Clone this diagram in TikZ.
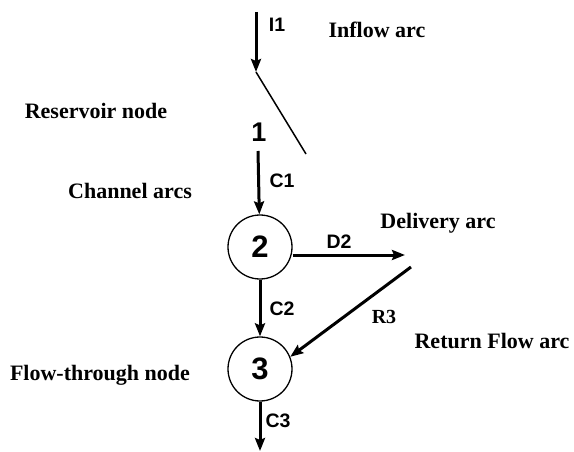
\documentclass[tikz,border=0pt]{standalone}
\usepackage{fontspec}
\setmainfont{Liberation Serif}
\setsansfont{Liberation Sans}
\usetikzlibrary{arrows.meta}
\begin{document}
\begin{tikzpicture}[x=1pt,y=-1pt,
  desc/.style={font=\fontsize{22}{24}\selectfont\bfseries,anchor=base,inner sep=0pt},
  arclab/.style={font=\fontsize{19.5}{21}\selectfont\sffamily\bfseries,anchor=base,inner sep=0pt},
  nodecirc/.style={draw,circle,line width=1.3pt,minimum size=64pt,inner sep=0pt,font=\fontsize{31}{34}\selectfont\sffamily\bfseries},
  flow/.style={line width=3pt,-{Stealth[length=13pt,width=10pt,inset=2pt]}},
  thin/.style={line width=1.5pt}]
\useasboundingbox (0,0) rectangle (574,452);
% nodes
\coordinate (i1s) at (256,12);
\coordinate (i1e) at (256,72);
\coordinate (t1e) at (306,154);
\node[font=\fontsize{27}{29}\selectfont\sffamily\bfseries,anchor=base,inner sep=0pt] (n1) at (259,142) {1};
\coordinate (c1s) at (258,151);
\node[nodecirc] (n2) at (260,247) {2};
\node[nodecirc] (n3) at (260,369) {3};
\coordinate (d2e) at (405,255);
\coordinate (r3s) at (411,267);
\coordinate (c3e) at (260,451);
% arcs
\draw[flow] (i1s) -- (i1e);
\draw[thin] (i1e) -- (t1e);
\draw[flow] (c1s) -- (n2);
\draw[flow] (n2.east |- d2e) -- (d2e);
\draw[flow] (n2) -- (n3);
\draw[flow] (r3s) -- (n3.22);
\draw[flow] (n3) -- (c3e);
% arc labels
\node[arclab] (li1) at (277,32) {I1};
\node[arclab] (lc1) at (282,187) {C1};
\node[arclab] (ld2) at (339,248) {D2};
\node[arclab] (lc2) at (282,315) {C2};
\node[arclab] (lc3) at (278,427) {C3};
\node[desc,font=\fontsize{20}{22}\selectfont\bfseries] (lr3) at (384,323) {R3};
% descriptions
\node[desc] (dinflow) at (377,38) {Inflow arc};
\node[desc] (dres) at (96,119) {Reservoir node};
\node[desc] (dchan) at (130,198) {Channel arcs};
\node[desc] (ddel) at (438,229) {Delivery arc};
\node[desc] (dret) at (492,348) {Return Flow arc};
\node[desc] (dflow) at (100,380) {Flow-through node};
\end{tikzpicture}
\end{document}
